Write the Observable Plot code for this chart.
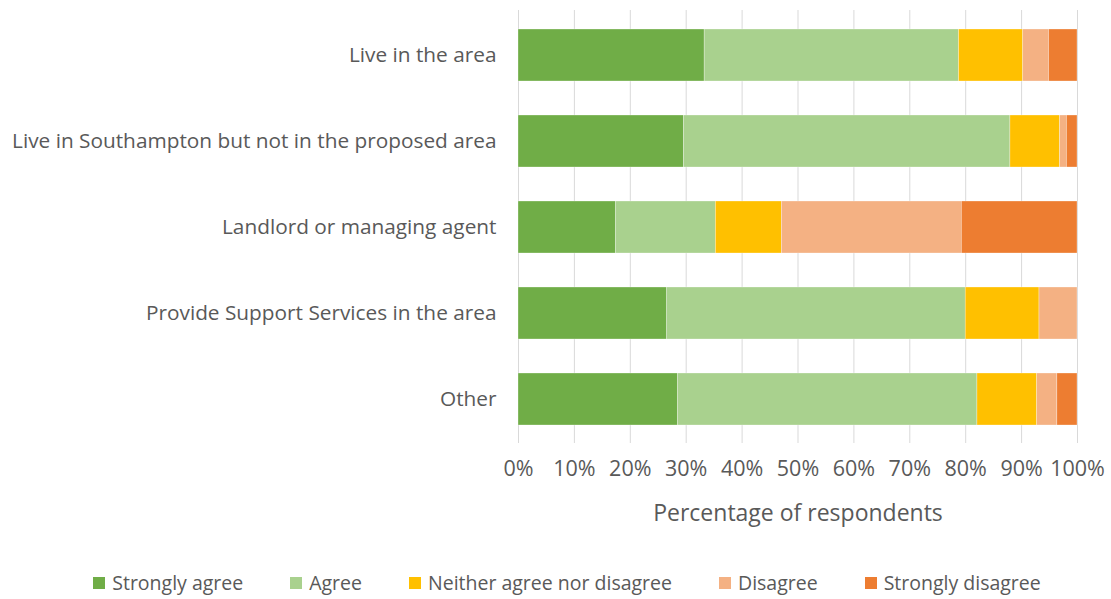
<!DOCTYPE html>
<html>
<head>
<meta charset="utf-8">
<script src="https://cdn.jsdelivr.net/npm/d3@7"></script>
<script src="https://cdn.jsdelivr.net/npm/@observablehq/plot@0.6"></script>
<style>
  body { margin: 0; background: #fff; width: 1111px; height: 599px; overflow: hidden; }
  #legend { display: flex; justify-content: center; gap: 47px; font-family: "Open Sans", Lato, sans-serif; font-size: 19.5px; color: #595959; margin-top: 39px; padding-left: 23px; }
  #legend .item { display: flex; align-items: center; gap: 7px; }
  #legend .sw { width: 12px; height: 12px; display: inline-block; }
</style>
</head>
<body>
<div id="chart"></div>
<div id="legend"></div>
<script>
const groups = ["Live in the area", "Live in Southampton but not in the proposed area", "Landlord or managing agent", "Provide Support Services in the area", "Other"];
const responses = ["Strongly agree", "Agree", "Neither agree nor disagree", "Disagree", "Strongly disagree"];
const stronglyAgree = [33.3, 29.6, 17.4, 26.6, 28.5];
const agree = [45.5, 58.4, 17.9, 53.4, 53.6];
const neither = [11.5, 8.9, 11.8, 13.2, 10.7];
const disagree = [4.6, 1.2, 32.2, 6.8, 3.6];
const stronglyDisagree = [5.1, 1.9, 20.7, 0, 3.6];
const colors = ["#70AD47", "#A9D18E", "#FFC000", "#F4B183", "#ED7D31"];
const xTicks = [0, 10, 20, 30, 40, 50, 60, 70, 80, 90, 100];
const xLabel = "Percentage of respondents";

const series = [stronglyAgree, agree, neither, disagree, stronglyDisagree];
const data = [];
groups.forEach((g, i) => {
  responses.forEach((r, j) => {
    data.push({group: g, response: r, value: series[j][i]});
  });
});

const chart = Plot.plot({
  width: 1111,
  height: 530,
  marginLeft: 518,
  marginRight: 34,
  marginTop: 10,
  marginBottom: 87,
  style: {fontSize: "19px", fontFamily: "'Open Sans', Lato, sans-serif", color: "#595959", background: "#fff"},
  x: {domain: [0, 100]},
  y: {domain: groups, paddingInner: 0.4, paddingOuter: 0.2},
  color: {domain: responses, range: colors},
  marks: [
    Plot.gridX(xTicks, {stroke: "#d9d9d9", strokeOpacity: 1, strokeWidth: 1}),
    Plot.barX(data, Plot.stackX({x: "value", y: "group", fill: "response", order: responses, stroke: "#fff", strokeWidth: 0.5, strokeOpacity: 0.6})),
    Plot.axisY({tickSize: 0, tickPadding: 22, label: null, fill: "#595959", fontSize: 20.8}),
    Plot.axisX({ticks: xTicks, tickSize: 0, tickPadding: 17, tickFormat: d => d + "%", label: null, fill: "#595959", fontSize: 21.5}),
    Plot.text([xLabel], {frameAnchor: "bottom", dy: 77, text: d => d, fill: "#595959", fontSize: 23})
  ]
});
document.getElementById("chart").appendChild(chart);

const legend = document.getElementById("legend");
responses.forEach((r, j) => {
  const item = document.createElement("div");
  item.className = "item";
  const sw = document.createElement("span");
  sw.className = "sw";
  sw.style.background = colors[j];
  const t = document.createElement("span");
  t.textContent = r;
  item.appendChild(sw);
  item.appendChild(t);
  legend.appendChild(item);
});
</script>
</body>
</html>
